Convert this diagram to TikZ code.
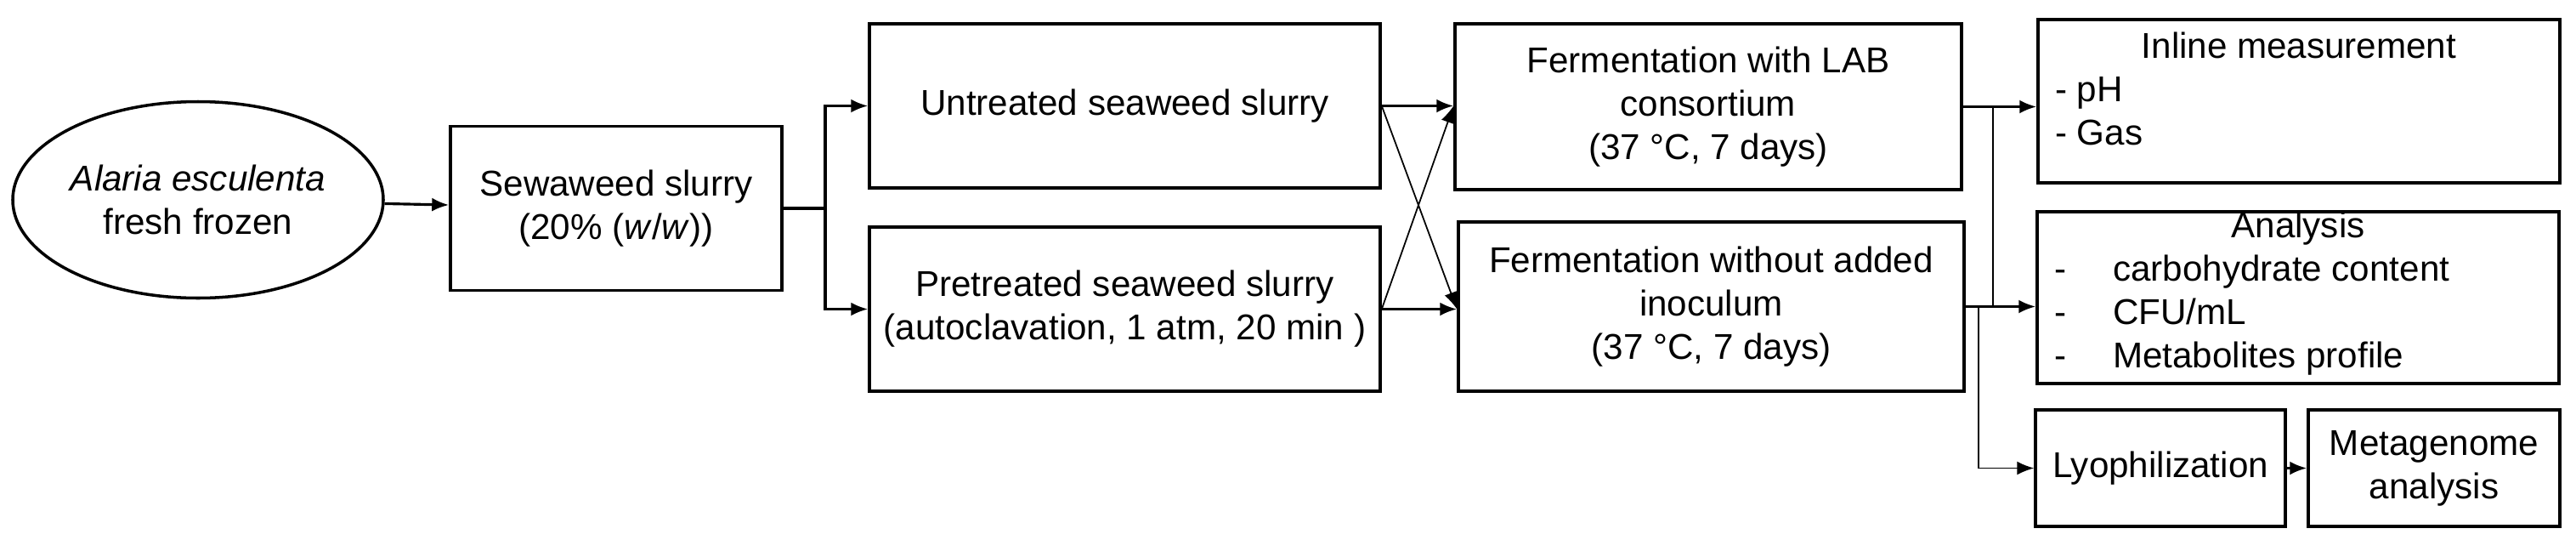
\documentclass[tikz,border=0pt]{standalone}
\usepackage{fontspec}
\setmainfont{Liberation Sans}
\usetikzlibrary{arrows.meta,shapes.geometric,calc}
\tikzset{box/.style={draw=black, line width=1pt, inner sep=0pt, align=center,
  font=\fontsize{12}{14.5}\selectfont},
  flow/.style={-{Latex[length=2mm,width=1.6mm]}, line width=0.9pt},
  thin/.style={-{Latex[length=2mm,width=1.6mm]}, line width=0.5pt}}

\begin{document}
\begin{tikzpicture}

    \useasboundingbox (0,0) rectangle (30.31,6.34);

% the samples

    \node[box, ellipse, minimum width=4.36cm, minimum height=2.31cm] (alaria) at (2.33,3.99) {\textit{Alaria esculenta}\\fresh frozen};
    \node[box, minimum width=3.90cm, minimum height=1.93cm] (slurry) at (7.25,3.89) {Sewaweed slurry\\(20\% (\textit{w}/\textit{w}))};
    \node[box, minimum width=6.01cm, minimum height=1.93cm] (untreated) at (13.235,5.095) {Untreated seaweed slurry};
    \node[box, minimum width=6.01cm, minimum height=1.93cm] (pretreated) at (13.235,2.705) {Pretreated seaweed slurry\\(autoclavation, 1 atm, 20 min )};

% the fermentations

    \node[box, minimum width=5.96cm, minimum height=1.95cm] (fermlab) at (20.10,5.085) {Fermentation with LAB\\consortium\\(37 \textdegree C, 7 days)};
    \node[box, minimum width=5.95cm, minimum height=1.99cm] (fermnone) at (20.135,2.735) {Fermentation without added\\inoculum\\(37 \textdegree C, 7 days)};

% the measurements

    \node[box] (inline) at (27.05,5.15) {\parbox[c][1.92cm][t]{6.14cm}{\vspace{0.15cm}%
      \centering Inline measurement\par\raggedright\hspace*{0.2cm}- pH\par\hspace*{0.2cm}- Gas}};
    \node[box] (analysis) at (27.04,2.84) {\parbox[c][2.02cm][t]{6.14cm}{\vspace{0cm}%
      \centering Analysis\par\raggedright
      \hspace*{0.2cm}-\hspace{0.55cm}carbohydrate content\par
      \hspace*{0.2cm}-\hspace{0.55cm}CFU/mL\par
      \hspace*{0.2cm}-\hspace{0.55cm}Metabolites profile}};
    \node[box, minimum width=2.94cm, minimum height=1.37cm] (lyo) at (25.42,0.835) {Lyophilization};
    \node[box, minimum width=2.96cm, minimum height=1.37cm] (meta) at (28.64,0.835) {Metagenome\\analysis};

    \coordinate (fork) at (9.71,0);
    \coordinate (bus) at (23.45,0);
    \coordinate (bustwo) at (23.28,0);

    \draw[flow] (alaria) -- (slurry);
    \draw[flow] (slurry.east) -- (slurry.east -| fork) |- (untreated.west);
    \draw[flow] (slurry.east -| fork) |- (pretreated.west);
    \draw[flow] (untreated.east) -- (fermlab.west |- untreated.east);
    \draw[flow] (pretreated.east) -- (fermnone.west |- pretreated.east);
    \draw[thin] (untreated.east) -- (fermnone.west |- pretreated.east);
    \draw[thin] (pretreated.east) -- (fermlab.west |- untreated.east);
    \draw[flow] (fermlab.east) -- (fermlab.east -| inline.west);
    \draw[thin, -] (fermlab.east -| bus) -- (fermnone.east -| bus);
    \draw[flow] (fermnone.east) -- (fermnone.east -| analysis.west);
    \draw[thin] (fermnone.east -| bustwo) |- (lyo.west);
    \draw[flow] (lyo) -- (meta);

\end{tikzpicture}
\end{document}
